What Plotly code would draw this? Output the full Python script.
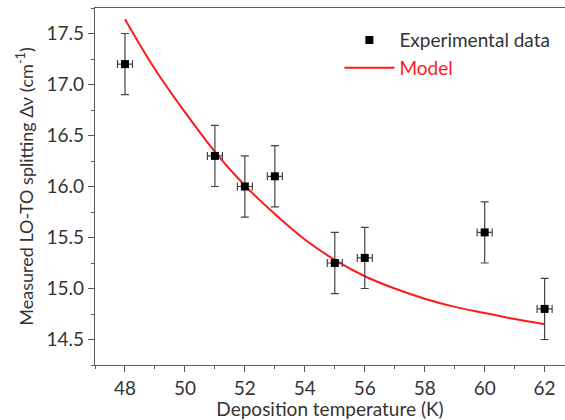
import plotly.graph_objects as go

# Measured LO-TO splitting versus deposition temperature
temperature = [48, 51, 52, 53, 55, 56, 60, 62]
splitting = [17.2, 16.3, 16.0, 16.1, 15.25, 15.3, 15.55, 14.8]
splitting_err = [0.3, 0.3, 0.3, 0.3, 0.3, 0.3, 0.3, 0.3]
temperature_err = [0.25, 0.25, 0.25, 0.25, 0.25, 0.25, 0.25, 0.25]

# Model curve
model_t = [48, 49, 50, 51, 52, 53, 54, 55, 56, 57, 58, 59, 60, 61, 62]
model_v = [17.64, 17.15, 16.73, 16.34, 16.01, 15.73, 15.48, 15.28, 15.12,
           15.00, 14.90, 14.82, 14.76, 14.70, 14.65]

x_ticks = [48, 50, 52, 54, 56, 58, 60, 62]
y_ticks = [14.5, 15.0, 15.5, 16.0, 16.5, 17.0, 17.5]

font_family = "Lato, 'Open Sans', sans-serif"
axis_grey = "#5a5a5a"
text_grey = "#333333"

fig = go.Figure()

fig.add_trace(go.Scatter(
    x=model_t, y=model_v, mode="lines",
    line=dict(color="#ff1a1a", width=2, shape="spline"),
    name='<span style="color:#ff1a1a">Model</span>',
    legendrank=2,
))

fig.add_trace(go.Scatter(
    x=temperature, y=splitting, mode="markers",
    marker=dict(symbol="square", size=8, color="black"),
    error_y=dict(type="data", array=splitting_err, color="#444444",
                 thickness=1.2, width=4),
    error_x=dict(type="data", array=temperature_err, color="#444444",
                 thickness=1.2, width=4),
    name="Experimental data",
    legendrank=1,
))

fig.update_layout(
    width=565, height=420,
    margin=dict(l=95, r=0, t=8, b=55),
    paper_bgcolor="white", plot_bgcolor="white",
    font=dict(family=font_family, size=19, color=text_grey),
    showlegend=True,
    legend=dict(
        x=0.52, y=0.963, xanchor="left", yanchor="top",
        bgcolor="rgba(0,0,0,0)", borderwidth=0,
        itemwidth=50, tracegroupgap=6,
        font=dict(family=font_family, size=19, color=text_grey),
    ),
    xaxis=dict(
        range=[47, 62.68],
        tickvals=x_ticks,
        ticks="outside", ticklen=6, tickcolor=axis_grey, tickwidth=1,
        minor=dict(dtick=1, tick0=47, ticks="outside", ticklen=3,
                   tickcolor=axis_grey),
        showline=True, linecolor=axis_grey, linewidth=1.2, mirror=True,
        showgrid=False, zeroline=False,
        title=dict(text="Deposition temperature (K)", standoff=2,
                   font=dict(size=19)),
        tickfont=dict(size=19),
    ),
    yaxis=dict(
        range=[14.25, 17.75],
        tickvals=y_ticks, ticktext=[f"{v:.1f}" for v in y_ticks],
        ticks="outside", ticklen=6, tickcolor=axis_grey, tickwidth=1,
        minor=dict(dtick=0.25, tick0=14.25, ticks="outside", ticklen=3,
                   tickcolor=axis_grey),
        showline=True, linecolor=axis_grey, linewidth=1.2,
        showgrid=False, zeroline=False,
        title=dict(text="Measured LO-TO splitting Δν (cm<sup>-1</sup>)",
                   standoff=8, font=dict(size=18)),
        tickfont=dict(size=19),
    ),
)

fig.write_html("out.html")
